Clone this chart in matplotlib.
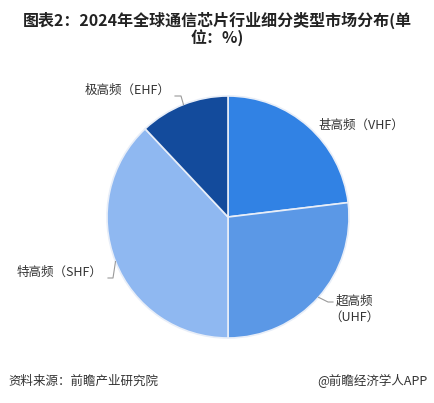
import numpy as np
import matplotlib.pyplot as plt

plt.rcParams['font.family'] = ['Noto Sans CJK SC', 'DejaVu Sans']

# 数据（%）
categories = ['甚高频（VHF）', '超高频\n（UHF）', '特高频（SHF）', '极高频（EHF）']
shares = [23.1, 26.9, 38.0, 12.0]
colors = ['#3182e4', '#5b98e6', '#8fb8f1', '#134b9c']

W, H = 434, 403
fig = plt.figure(figsize=(W / 100, H / 100), dpi=100)

# 饼图中心及半径（像素）
cx, cy, r = 228, 217, 121
ax = fig.add_axes([(cx - r) / W, (H - cy - r) / H, 2 * r / W, 2 * r / H])

wedges, _ = ax.pie(shares, colors=colors, startangle=90, counterclock=False,
                   radius=1.0, wedgeprops=dict(edgecolor='#e8eef8', linewidth=1.2))
ax.set_xlim(-1, 1)
ax.set_ylim(-1, 1)
ax.set_aspect('equal')
ax.set_clip_on(False)


def px(x, y):
    return (x - cx) / r, (cy - y) / r


def edge(w):
    a = np.deg2rad((w.theta1 + w.theta2) / 2)
    return np.cos(a), np.sin(a)


lc = '#9a9a9a'
tc = '#333333'
fs = 9

# 甚高频
ex, ey = edge(wedges[0])
tx, ty = px(318, 125)
ax.text(tx, ty, categories[0], ha='left', va='center', fontsize=fs, color=tc)

# 超高频
ex, ey = edge(wedges[1])
k1 = px(328, 302)
k2 = px(333, 302)
ax.plot([ex, k1[0], k2[0]], [ey, k1[1], k2[1]], color=lc, lw=0.8, clip_on=False)
tx, ty = px(354, 309)
ax.text(tx, ty, categories[1], ha='center', va='center', fontsize=fs, color=tc,
        linespacing=1.3)

# 特高频
ex, ey = edge(wedges[2])
k1 = px(113, 278)
k2 = px(108, 278)
ax.plot([ex, k1[0], k2[0]], [ey, k1[1], k2[1]], color=lc, lw=0.8, clip_on=False)
tx, ty = px(102, 272)
ax.text(tx, ty, categories[2], ha='right', va='center', fontsize=fs, color=tc)

# 极高频
ex, ey = edge(wedges[3])
k1 = px(181, 96)
k2 = px(175, 96)
ax.plot([ex, k1[0], k2[0]], [ey, k1[1], k2[1]], color=lc, lw=0.8, clip_on=False)
tx, ty = px(171, 90)
ax.text(tx, ty, categories[3], ha='right', va='center', fontsize=fs, color=tc)

# 标题与来源
fig.text(0.5, 1 - 20 / H, '图表2：2024年全球通信芯片行业细分类型市场分布(单', ha='center',
         va='center', fontsize=11.5, fontweight='bold', color='#222222')
fig.text(0.5, 1 - 38 / H, '位：%)', ha='center', va='center', fontsize=11.5,
         fontweight='bold', color='#222222')
fig.text(8 / W, 1 - 381 / H, '资料来源：前瞻产业研究院', ha='left', va='center',
         fontsize=9, color=tc)
fig.text(428 / W, 1 - 381 / H, '@前瞻经济学人APP', ha='right', va='center',
         fontsize=9, color=tc)

fig.savefig('out.png', dpi=100)
